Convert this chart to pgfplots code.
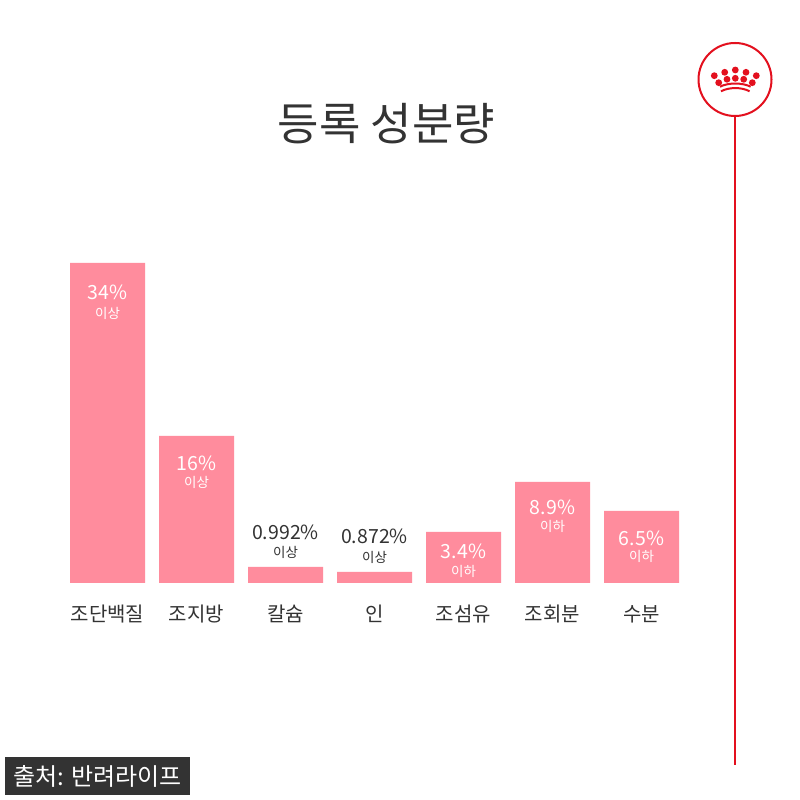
\documentclass[border=0pt]{standalone}
\usepackage{pgfplots}
\pgfplotsset{compat=1.18}
\usepackage{pgfplotstable}
\usepackage{fontspec}
\setmainfont{Noto Sans CJK KR}
\definecolor{barpink}{HTML}{FF8C9D}
\definecolor{txt}{HTML}{333333}
\definecolor{rcred}{HTML}{E3101E}
\definecolor{capbg}{HTML}{333333}
% bar heights as drawn (pixels above the baseline)
\pgfplotstableread{
x h
0 320
1 147
2 16
3 11
4 51
5 101
6 72
}\bars
\begin{document}
\begin{tikzpicture}[x=1pt,y=1pt]
\useasboundingbox (0,0) rectangle (800,800);
\fill[white] (0,0) rectangle (800,800);
\begin{axis}[
  at={(0,0)}, anchor=south west,
  scale only axis, width=800pt, height=800pt,
  xmin=-1.2079, xmax=7.7809,
  ymin=-217, ymax=583,
  axis x line=middle, axis y line=none,
  axis line style={draw=none},
  major tick length=0pt,
  xtick={0,...,6},
  xticklabels={조단백질,조지방,칼슘,인,조섬유,조회분,수분},
  xticklabel style={font=\fontsize{20}{23}\selectfont, text=txt, anchor=base, yshift=-38.5pt},
  ytick=\empty,
  clip=false,
]
\addplot[ybar, bar width=0.8427, bar shift=0pt, fill=barpink, draw=none] table[x=x,y=h] {\bars};
% value labels
\tikzset{num/.style={font=\fontsize{19.5}{22}\selectfont, inner sep=0pt, anchor=center},
         sub/.style={font=\fontsize{13.5}{16}\selectfont, inner sep=0pt, anchor=center}}
\node[num, white] at (axis cs:0,290.5) {34\%};
\node[sub, white] at (axis cs:0,269.5) {이상};
\node[num, white] at (axis cs:1,120) {16\%};
\node[sub, white] at (axis cs:1,101) {이상};
\node[num, txt] at (axis cs:2,50.5) {0.992\%};
\node[sub, txt] at (axis cs:2,31) {이상};
\node[num, txt] at (axis cs:3,46.5) {0.872\%};
\node[sub, txt] at (axis cs:3,26) {이상};
\node[num, white] at (axis cs:4,31.5) {3.4\%};
\node[sub, white] at (axis cs:4,12) {이하};
\node[num, white] at (axis cs:5,75.5) {8.9\%};
\node[sub, white] at (axis cs:5,57) {이하};
\node[num, white] at (axis cs:6,45) {6.5\%};
\node[sub, white] at (axis cs:6,27) {이하};
\end{axis}
% title
\node[font=\fontsize{45}{52}\selectfont, text=txt, anchor=center, inner sep=0pt] at (386.5,800-124) {등록 성분량};
% Royal Canin style emblem and line
\draw[rcred, line width=2pt] (735,800-79.5) circle (36.5);
\draw[rcred, line width=2pt] (735,800-116) -- (735,800-765);
\foreach \px/\py in {714.3/75.7,724.7/72.3,735.3/70,746/72.3,756.3/75.7,718.7/82.7,727/79.3,735.3/78.3,743.7/79.3,752.3/82.7}
  \fill[rcred] (\px,800-\py) circle (3.4);
\draw[rcred, line width=2pt] (720,800-86.7) .. controls (728,800-82.5) and (742.6,800-82.5) .. (750.6,800-86.7);
\draw[rcred, line width=2pt] (721,800-91.3) .. controls (729,800-87) and (741.6,800-87) .. (749.6,800-91.3);
% caption
\fill[capbg] (5,800-795) rectangle (190,800-757);
\node[font=\fontsize{24}{27}\selectfont, text=white, anchor=center, inner sep=0pt] at (97.5,800-776) {출처: 반려라이프};
\end{tikzpicture}
\end{document}
